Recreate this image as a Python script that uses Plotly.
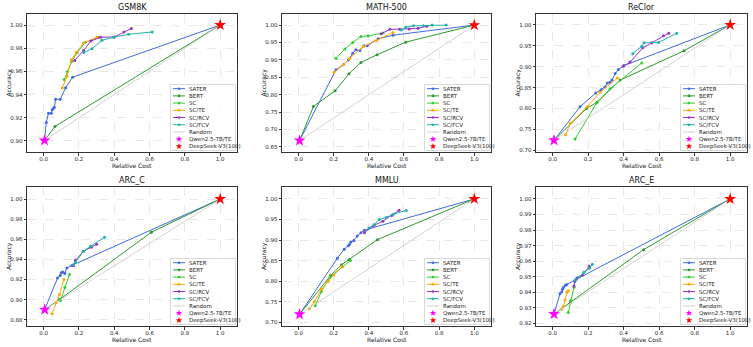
import math
import plotly.graph_objects as go

FIG_W, FIG_H = 753, 347

# ---------------- data ----------------
PANEL_NAMES = ["GSM8K", "MATH-500", "ReClor", "ARC_C", "MMLU", "ARC_E"]
SERIES_NAMES = ["SATER", "BERT", "SC", "SC/TE", "SC/RCV", "SC/FCV"]

QWEN_COST = [0.005, 0.006, 0.0075, 0.006, 0.006, 0.0075]
QWEN_ACC = [0.9005, 0.668, 0.724, 0.890, 0.7194, 0.926]
DEEPSEEK_COST = [1.0, 1.0, 1.0, 1.0, 1.0, 1.0]
DEEPSEEK_ACC = [1.0, 1.0, 1.0, 1.0, 1.0, 1.0]

# GSM8K
GSM8K_SATER_COST = [0.005, 0.015, 0.028, 0.044, 0.049, 0.055, 0.061, 0.068, 0.094, 0.125, 0.164, 1.0]
GSM8K_SATER_ACC = [0.9005, 0.916, 0.924, 0.924, 0.927, 0.928, 0.929, 0.936, 0.936, 0.946, 0.955, 1.0]
GSM8K_BERT_COST = [0.005, 0.064, 1.0]
GSM8K_BERT_ACC = [0.9005, 0.9125, 1.0]
GSM8K_SC_COST = [0.117, 0.135, 0.160, 0.189, 0.236, 0.311]
GSM8K_SC_ACC = [0.953, 0.960, 0.9687, 0.976, 0.985, 0.9894]
GSM8K_SCTE_COST = [0.106, 0.132, 0.157, 0.185, 0.226, 0.302]
GSM8K_SCTE_ACC = [0.9457, 0.9557, 0.970, 0.9764, 0.9845, 0.9894]
GSM8K_SCRCV_COST = [0.176, 0.226, 0.268, 0.323, 0.40, 0.455, 0.497]
GSM8K_SCRCV_ACC = [0.9695, 0.978, 0.9862, 0.9894, 0.9897, 0.994, 0.997]
GSM8K_SCFCV_COST = [0.228, 0.274, 0.330, 0.396, 0.481, 0.615]
GSM8K_SCFCV_ACC = [0.9764, 0.9796, 0.9868, 0.9894, 0.992, 0.994]

# MATH-500
MATH_SATER_COST = [0.006, 0.213, 0.255, 0.283, 0.308, 0.326, 0.349, 0.372, 0.391, 0.453, 0.538, 1.0]
MATH_SATER_ACC = [0.668, 0.8715, 0.886, 0.900, 0.919, 0.929, 0.927, 0.9406, 0.9406, 0.9607, 0.971, 1.0]
MATH_BERT_COST = [0.006, 0.085, 0.208, 0.287, 0.355, 0.447, 0.609, 1.0]
MATH_BERT_ACC = [0.668, 0.766, 0.811, 0.860, 0.8926, 0.9147, 0.951, 1.0]
MATH_SC_COST = [0.213, 0.264, 0.308, 0.355, 0.396, 0.481]
MATH_SC_ACC = [0.905, 0.931, 0.950, 0.9674, 0.969, 0.977]
MATH_SCTE_COST = [0.202, 0.255, 0.292, 0.368, 0.443, 0.538]
MATH_SCTE_ACC = [0.864, 0.886, 0.905, 0.9386, 0.956, 0.979]
MATH_SCRCV_COST = [0.47, 0.52, 0.575, 0.63, 0.68, 0.73]
MATH_SCRCV_ACC = [0.975, 0.988, 0.988, 0.989, 0.991, 0.997]
MATH_SCFCV_COST = [0.585, 0.61, 0.655, 0.71, 0.76, 0.84]
MATH_SCFCV_ACC = [0.986, 0.994, 0.998, 0.998, 1.0, 1.0]

# ReClor
RECLOR_SATER_COST = [0.0075, 0.154, 0.243, 0.273, 0.295, 0.308, 0.323, 0.334, 0.352, 0.370, 0.402, 1.0]
RECLOR_SATER_ACC = [0.724, 0.804, 0.8372, 0.845, 0.8516, 0.861, 0.8627, 0.868, 0.8835, 0.893, 0.9026, 1.0]
RECLOR_BERT_COST = [0.0075, 0.19, 0.25, 0.38, 0.74, 1.0]
RECLOR_BERT_ACC = [0.724, 0.80, 0.815, 0.868, 0.938, 1.0]
RECLOR_SC_COST = [0.126, 0.248, 0.323, 0.502]
RECLOR_SC_ACC = [0.727, 0.813, 0.847, 0.909]
RECLOR_SCTE_COST = [0.073, 0.10, 0.195, 0.267, 0.365]
RECLOR_SCTE_ACC = [0.7375, 0.765, 0.804, 0.839, 0.873]
RECLOR_SCRCV_COST = [0.398, 0.436, 0.508, 0.558, 0.624, 0.654]
RECLOR_SCRCV_ACC = [0.901, 0.911, 0.945, 0.957, 0.974, 0.98]
RECLOR_SCFCV_COST = [0.451, 0.502, 0.515, 0.596, 0.699]
RECLOR_SCFCV_ACC = [0.931, 0.949, 0.957, 0.958, 0.980]

# ARC_C
ARCC_SATER_COST = [0.006, 0.079, 0.094, 0.10, 0.109, 0.12, 0.132, 0.16, 1.0]
ARCC_SATER_ACC = [0.890, 0.9214, 0.924, 0.9267, 0.9274, 0.926, 0.9314, 0.934, 1.0]
ARCC_BERT_COST = [0.006, 0.09, 0.61, 1.0]
ARCC_BERT_ACC = [0.890, 0.900, 0.967, 1.0]
ARCC_SC_COST = [0.095, 0.12, 0.147]
ARCC_SC_ACC = [0.899, 0.912, 0.925]
ARCC_SCTE_COST = [0.048, 0.07, 0.09, 0.115]
ARCC_SCTE_ACC = [0.886, 0.897, 0.905, 0.920]
ARCC_SCRCV_COST = [0.17, 0.18, 0.225, 0.27, 0.30]
ARCC_SCRCV_ACC = [0.934, 0.939, 0.948, 0.952, 0.955]
ARCC_SCFCV_COST = [0.17, 0.18, 0.225, 0.265, 0.345]
ARCC_SCFCV_ACC = [0.935, 0.937, 0.948, 0.953, 0.962]

# MMLU
MMLU_SATER_COST = [0.006, 0.221, 0.26, 0.283, 0.29, 0.298, 0.315, 0.334, 0.355, 0.374, 1.0]
MMLU_SATER_ACC = [0.7194, 0.856, 0.8775, 0.886, 0.889, 0.895, 0.899, 0.910, 0.918, 0.924, 1.0]
MMLU_BERT_COST = [0.006, 0.183, 0.245, 0.288, 0.449, 1.0]
MMLU_BERT_ACC = [0.7194, 0.814, 0.840, 0.853, 0.901, 1.0]
MMLU_SC_COST = [0.095, 0.13, 0.18, 0.25, 0.295]
MMLU_SC_ACC = [0.74, 0.775, 0.81, 0.835, 0.85]
MMLU_SCTE_COST = [0.062, 0.09, 0.13, 0.17, 0.20, 0.25]
MMLU_SCTE_ACC = [0.733, 0.75, 0.78, 0.80, 0.815, 0.836]
MMLU_SCRCV_COST = [0.375, 0.43, 0.48, 0.53, 0.572]
MMLU_SCRCV_ACC = [0.918, 0.936, 0.946, 0.96, 0.9725]
MMLU_SCFCV_COST = [0.40, 0.43, 0.46, 0.50, 0.54, 0.613]
MMLU_SCFCV_ACC = [0.929, 0.938, 0.95, 0.955, 0.963, 0.972]

# ARC_E
ARCE_SATER_COST = [0.0075, 0.041, 0.051, 0.055, 0.06, 0.07, 0.079, 0.132, 1.0]
ARCE_SATER_ACC = [0.926, 0.939, 0.9403, 0.942, 0.943, 0.9443, 0.945, 0.9483, 1.0]
ARCE_BERT_COST = [0.0075, 0.10, 0.512, 1.0]
ARCE_BERT_ACC = [0.926, 0.9335, 0.9674, 1.0]
ARCE_SC_COST = [0.088, 0.103, 0.12]
ARCE_SC_ACC = [0.927, 0.9348, 0.9433]
ARCE_SCTE_COST = [0.05, 0.06, 0.07, 0.08, 0.088]
ARCE_SCTE_ACC = [0.929, 0.931, 0.935, 0.94, 0.941]
ARCE_SCRCV_COST = [0.12, 0.125, 0.138, 0.168, 0.206]
ARCE_SCRCV_ACC = [0.944, 0.947, 0.9492, 0.951, 0.9567]
ARCE_SCFCV_COST = [0.126, 0.153, 0.176, 0.208, 0.224]
ARCE_SCFCV_ACC = [0.9477, 0.950, 0.9528, 0.9555, 0.958]

X_TICKS = [0.0, 0.2, 0.4, 0.6, 0.8, 1.0]
Y_TICKS = [
    [0.90, 0.92, 0.94, 0.96, 0.98, 1.00],
    [0.65, 0.70, 0.75, 0.80, 0.85, 0.90, 0.95, 1.00],
    [0.70, 0.75, 0.80, 0.85, 0.90, 0.95, 1.00],
    [0.88, 0.90, 0.92, 0.94, 0.96, 0.98, 1.00],
    [0.70, 0.75, 0.80, 0.85, 0.90, 0.95, 1.00],
    [0.92, 0.93, 0.94, 0.95, 0.96, 0.97, 0.98, 0.99, 1.00],
]
Y_RANGES = [
    [0.8905, 1.0095],
    [0.635, 1.032],
    [0.696, 1.026],
    [0.8737, 1.012],
    [0.691, 1.029],
    [0.9183, 1.0077],
]
X_RANGE = [-0.094, 1.095]

PANEL_SERIES = [
    [(GSM8K_SATER_COST, GSM8K_SATER_ACC), (GSM8K_BERT_COST, GSM8K_BERT_ACC), (GSM8K_SC_COST, GSM8K_SC_ACC),
     (GSM8K_SCTE_COST, GSM8K_SCTE_ACC), (GSM8K_SCRCV_COST, GSM8K_SCRCV_ACC), (GSM8K_SCFCV_COST, GSM8K_SCFCV_ACC)],
    [(MATH_SATER_COST, MATH_SATER_ACC), (MATH_BERT_COST, MATH_BERT_ACC), (MATH_SC_COST, MATH_SC_ACC),
     (MATH_SCTE_COST, MATH_SCTE_ACC), (MATH_SCRCV_COST, MATH_SCRCV_ACC), (MATH_SCFCV_COST, MATH_SCFCV_ACC)],
    [(RECLOR_SATER_COST, RECLOR_SATER_ACC), (RECLOR_BERT_COST, RECLOR_BERT_ACC), (RECLOR_SC_COST, RECLOR_SC_ACC),
     (RECLOR_SCTE_COST, RECLOR_SCTE_ACC), (RECLOR_SCRCV_COST, RECLOR_SCRCV_ACC), (RECLOR_SCFCV_COST, RECLOR_SCFCV_ACC)],
    [(ARCC_SATER_COST, ARCC_SATER_ACC), (ARCC_BERT_COST, ARCC_BERT_ACC), (ARCC_SC_COST, ARCC_SC_ACC),
     (ARCC_SCTE_COST, ARCC_SCTE_ACC), (ARCC_SCRCV_COST, ARCC_SCRCV_ACC), (ARCC_SCFCV_COST, ARCC_SCFCV_ACC)],
    [(MMLU_SATER_COST, MMLU_SATER_ACC), (MMLU_BERT_COST, MMLU_BERT_ACC), (MMLU_SC_COST, MMLU_SC_ACC),
     (MMLU_SCTE_COST, MMLU_SCTE_ACC), (MMLU_SCRCV_COST, MMLU_SCRCV_ACC), (MMLU_SCFCV_COST, MMLU_SCFCV_ACC)],
    [(ARCE_SATER_COST, ARCE_SATER_ACC), (ARCE_BERT_COST, ARCE_BERT_ACC), (ARCE_SC_COST, ARCE_SC_ACC),
     (ARCE_SCTE_COST, ARCE_SCTE_ACC), (ARCE_SCRCV_COST, ARCE_SCRCV_ACC), (ARCE_SCFCV_COST, ARCE_SCFCV_ACC)],
]

# ---------------- styles ----------------
SERIES_COLORS = ["#4169E1", "#2E9A2E", "#32CD32", "#FFA500", "#9932CC", "#20B2AA"]
RANDOM_COLOR = "#C8C8C8"
QWEN_COLOR = "#FF00FF"
DEEPSEEK_COLOR = "#FF0000"
FONT = "DejaVu Sans"

COL_L = [27, 282, 536]
COL_R = [237, 491, 747]
ROW_T = [14, 187]
ROW_B = [152, 326]


def px(xp):
    return xp / FIG_W


def py(yp):
    return 1 - yp / FIG_H


fig = go.Figure()
shapes = []
annotations = []
layout_axes = {}

for i, name in enumerate(PANEL_NAMES):
    r, c = divmod(i, 3)
    L, R, T, B = COL_L[c], COL_R[c], ROW_T[r], ROW_B[r]
    n = i + 1
    xa = "x" if n == 1 else f"x{n}"
    ya = "y" if n == 1 else f"y{n}"
    xkey = "xaxis" if n == 1 else f"xaxis{n}"
    ykey = "yaxis" if n == 1 else f"yaxis{n}"

    axis_common = dict(
        showline=True, mirror=True, linecolor="#333", linewidth=1,
        ticks="outside", ticklen=2.5, tickwidth=0.8, tickcolor="#333",
        showgrid=True, gridcolor="rgba(0,0,0,0.09)", griddash="dash", gridwidth=0.5,
        zeroline=False, tickfont=dict(family=FONT, size=5.5, color="#222"),
    )
    layout_axes[xkey] = dict(axis_common, domain=[px(L), px(R)], anchor=ya, range=X_RANGE,
                             tickvals=X_TICKS, tickformat=".1f", ticklabelstandoff=-1)
    layout_axes[ykey] = dict(axis_common, domain=[py(B), py(T)], anchor=xa, range=Y_RANGES[i],
                             tickvals=Y_TICKS[i], tickformat=".2f")

    for k, (cx, cy) in enumerate(PANEL_SERIES[i]):
        fig.add_trace(go.Scatter(
            x=cx, y=cy, mode="lines+markers", xaxis=xa, yaxis=ya,
            line=dict(color=SERIES_COLORS[k], width=1),
            marker=dict(color=SERIES_COLORS[k], size=3),
            showlegend=False, name=SERIES_NAMES[k]))
    fig.add_trace(go.Scatter(
        x=[QWEN_COST[i], DEEPSEEK_COST[i]], y=[QWEN_ACC[i], DEEPSEEK_ACC[i]],
        mode="lines", xaxis=xa, yaxis=ya, line=dict(color=RANDOM_COLOR, width=0.8),
        showlegend=False, name="Random"))
    fig.add_trace(go.Scatter(
        x=[QWEN_COST[i]], y=[QWEN_ACC[i]], mode="markers", xaxis=xa, yaxis=ya,
        marker=dict(symbol="star", size=9, color=QWEN_COLOR, line=dict(width=0)),
        showlegend=False, name="Qwen2.5-7B/TE"))
    fig.add_trace(go.Scatter(
        x=[DEEPSEEK_COST[i]], y=[DEEPSEEK_ACC[i]], mode="markers", xaxis=xa, yaxis=ya,
        marker=dict(symbol="star", size=9, color=DEEPSEEK_COLOR, line=dict(width=0)),
        showlegend=False, name="DeepSeek-V3(100)"))

    # titles
    annotations.append(dict(text=name, x=px((L + R) / 2), y=py(T - 6.5), xref="paper", yref="paper",
                            showarrow=False, xanchor="center", yanchor="middle",
                            font=dict(family=FONT, size=8, color="#111")))
    annotations.append(dict(text="Accuracy", x=px(L - 18.5), y=py((T + B) / 2), xref="paper", yref="paper",
                            showarrow=False, textangle=-90, xanchor="center", yanchor="middle",
                            font=dict(family=FONT, size=6, color="#111")))
    annotations.append(dict(text="Relative Cost", x=px((L + R) / 2), y=py(B + 13.5), xref="paper", yref="paper",
                            showarrow=False, xanchor="center", yanchor="middle",
                            font=dict(family=FONT, size=6, color="#111")))

    # custom legend (matplotlib-like, lower right)
    bw, bh = 65, 66
    bx1, by1 = R - 1.5, B - 1.5
    bx0, by0 = bx1 - bw, by1 - bh
    shapes.append(dict(type="rect", xref="paper", yref="paper", layer="above",
                       x0=px(bx0), x1=px(bx1), y0=py(by1), y1=py(by0),
                       fillcolor="rgba(255,255,255,0.85)", line=dict(color="#D0D0D0", width=0.8)))
    labels = SERIES_NAMES + ["Random", "Qwen2.5-7B/TE", "DeepSeek-V3(100)"]
    for j, lab in enumerate(labels):
        yc = by0 + 4.2 + 7.2 * j
        xm = bx0 + 8.5
        if j < 7:
            col = SERIES_COLORS[j] if j < 6 else RANDOM_COLOR
            shapes.append(dict(type="line", xref="paper", yref="paper", layer="above",
                               x0=px(bx0 + 2.5), x1=px(bx0 + 14.5), y0=py(yc), y1=py(yc),
                               line=dict(color=col, width=1 if j < 6 else 0.8)))
            if j < 6:
                rr = 1.3
                shapes.append(dict(type="circle", xref="paper", yref="paper", layer="above",
                                   x0=px(xm - rr), x1=px(xm + rr), y0=py(yc + rr), y1=py(yc - rr),
                                   fillcolor=col, line=dict(width=0)))
        else:
            col = QWEN_COLOR if j == 7 else DEEPSEEK_COLOR
            Ro, Ri = 3.4, 1.4
            pts = []
            for q in range(10):
                ang = math.radians(-90 + 36 * q)
                rad = Ro if q % 2 == 0 else Ri
                pts.append((px(xm + rad * math.cos(ang)), py(yc + rad * math.sin(ang))))
            path = "M " + " L ".join(f"{a:.5f},{b:.5f}" for a, b in pts) + " Z"
            shapes.append(dict(type="path", xref="paper", yref="paper", layer="above",
                               path=path, fillcolor=col, line=dict(width=0)))
        annotations.append(dict(text=lab, x=px(bx0 + 16.5), y=py(yc), xref="paper", yref="paper",
                                showarrow=False, xanchor="left", yanchor="middle",
                                font=dict(family=FONT, size=5.5, color="#222")))

fig.update_layout(
    width=FIG_W, height=FIG_H,
    margin=dict(l=0, r=0, t=0, b=0),
    paper_bgcolor="white", plot_bgcolor="white",
    showlegend=False,
    shapes=shapes, annotations=annotations,
    **layout_axes,
)

fig.write_html("out.html", config={"displayModeBar": False},
               post_script="document.body.style.margin='0px';")
